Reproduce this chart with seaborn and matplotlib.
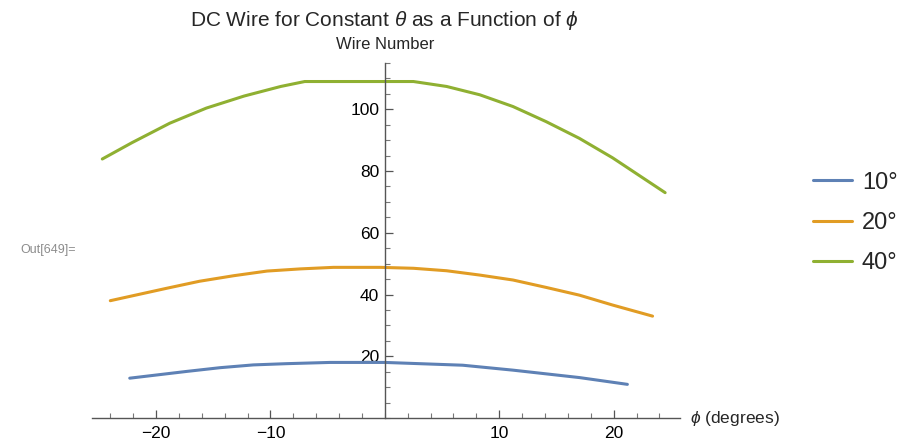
import matplotlib
matplotlib.use("Agg")
import matplotlib.pyplot as plt
from matplotlib.ticker import MultipleLocator, FixedLocator
import seaborn as sns
import pandas as pd

# Wire number versus phi (degrees) for three fixed theta values
phi_10 = [-22.3, -17.3, -14.4, -11.5, -8.6, -4.8, 0.0, 6.8, 11.2, 17.0, 21.2]
wire_10 = [12.9, 15.1, 16.3, 17.2, 17.6, 18.0, 18.0, 17.1, 15.5, 13.1, 10.9]

phi_20 = [-24.0, -19.1, -16.2, -13.2, -10.3, -7.4, -4.5, -0.4, 2.5, 5.4, 8.3,
          11.2, 14.1, 17.0, 19.9, 23.4]
wire_20 = [38.0, 42.0, 44.3, 46.1, 47.6, 48.3, 48.8, 48.8, 48.5, 47.7, 46.3,
           44.7, 42.3, 39.8, 36.6, 33.0]

phi_40 = [-24.7, -22.1, -18.8, -15.6, -12.3, -9.1, -7.0, 2.5, 5.4, 8.3, 11.2,
          14.1, 17.0, 19.9, 24.5]
wire_40 = [83.9, 89.2, 95.5, 100.4, 104.3, 107.4, 109.0, 109.0, 107.4, 104.7,
           100.9, 96.0, 90.6, 84.3, 73.0]

series_labels = ["10°", "20°", "40°"]
series_colors = ["#5E81B5", "#E19C24", "#8FB032"]

x_ticks = [-20, -10, 10, 20]
y_ticks = [20, 40, 60, 80, 100]

frames = []
for lab, xs, ys in zip(series_labels, [phi_10, phi_20, phi_40],
                       [wire_10, wire_20, wire_40]):
    frames.append(pd.DataFrame({"phi": xs, "wire": ys, "theta": lab}))
df = pd.concat(frames, ignore_index=True)

sns.set_style("white")
plt.rcParams["font.family"] = ["Liberation Sans", "DejaVu Sans"]
plt.rcParams["mathtext.fontset"] = "custom"
plt.rcParams["mathtext.it"] = "Liberation Sans:italic"

fig = plt.figure(figsize=(9.04, 4.42), dpi=100)
ax = fig.add_axes([92 / 904, 1 - 418 / 442, 588 / 904, 355 / 442])

sns.lineplot(data=df, x="phi", y="wire", hue="theta", hue_order=series_labels,
             palette=series_colors, sort=False, estimator=None, linewidth=2.2,
             ax=ax, legend=True)

ax.set_xlim(-25.6, 25.8)
ax.set_ylim(0, 115)

# Axes cross at the origin
ax.spines["left"].set_position(("data", 0))
ax.spines["bottom"].set_position(("data", 0))
for s in ("top", "right"):
    ax.spines[s].set_visible(False)
for s in ("left", "bottom"):
    ax.spines[s].set_color("#555555")
    ax.spines[s].set_linewidth(1.0)

ax.xaxis.set_major_locator(FixedLocator(x_ticks))
ax.xaxis.set_minor_locator(MultipleLocator(2))
ax.yaxis.set_major_locator(FixedLocator(y_ticks))
ax.yaxis.set_minor_locator(MultipleLocator(5))
ax.tick_params(axis="both", which="both", bottom=True, left=True,
               top=False, right=False)
ax.tick_params(axis="both", which="major", direction="in", length=6,
               width=0.9, color="#555555", labelsize=12.5, labelcolor="black")
ax.tick_params(axis="both", which="minor", direction="in", length=3.5,
               width=0.8, color="#777777")
ax.tick_params(axis="x", pad=6)
ax.tick_params(axis="y", pad=4)

ax.set_xlabel("")
ax.set_ylabel("")
ax.text(26.7, 0, r"$\phi$ (degrees)", fontsize=12.5,
        va="center", ha="left", clip_on=False)
ax.text(0, 118.5, "Wire Number", fontsize=12, ha="center", va="bottom",
        clip_on=False)

fig.text(384 / 904, 1 - 20 / 442,
         r"DC Wire for Constant $\theta$ as a Function of $\phi$",
         fontsize=15, ha="center", va="center")
fig.text(20 / 904, 1 - 250 / 442, "Out[649]=", fontsize=9, color="#8c8c8c",
         ha="left", va="center")

handles, labels = ax.get_legend_handles_labels()
leg = ax.legend(handles, labels, loc="center left",
                bbox_to_anchor=(813 / 904, 1 - 223 / 442),
                bbox_transform=fig.transFigure, frameon=False, fontsize=17,
                handlelength=1.65, handletextpad=0.42, labelspacing=0.78,
                borderpad=0, borderaxespad=0)
for line in leg.get_lines():
    line.set_linewidth(2.2)

fig.savefig("out.png", dpi=100)
